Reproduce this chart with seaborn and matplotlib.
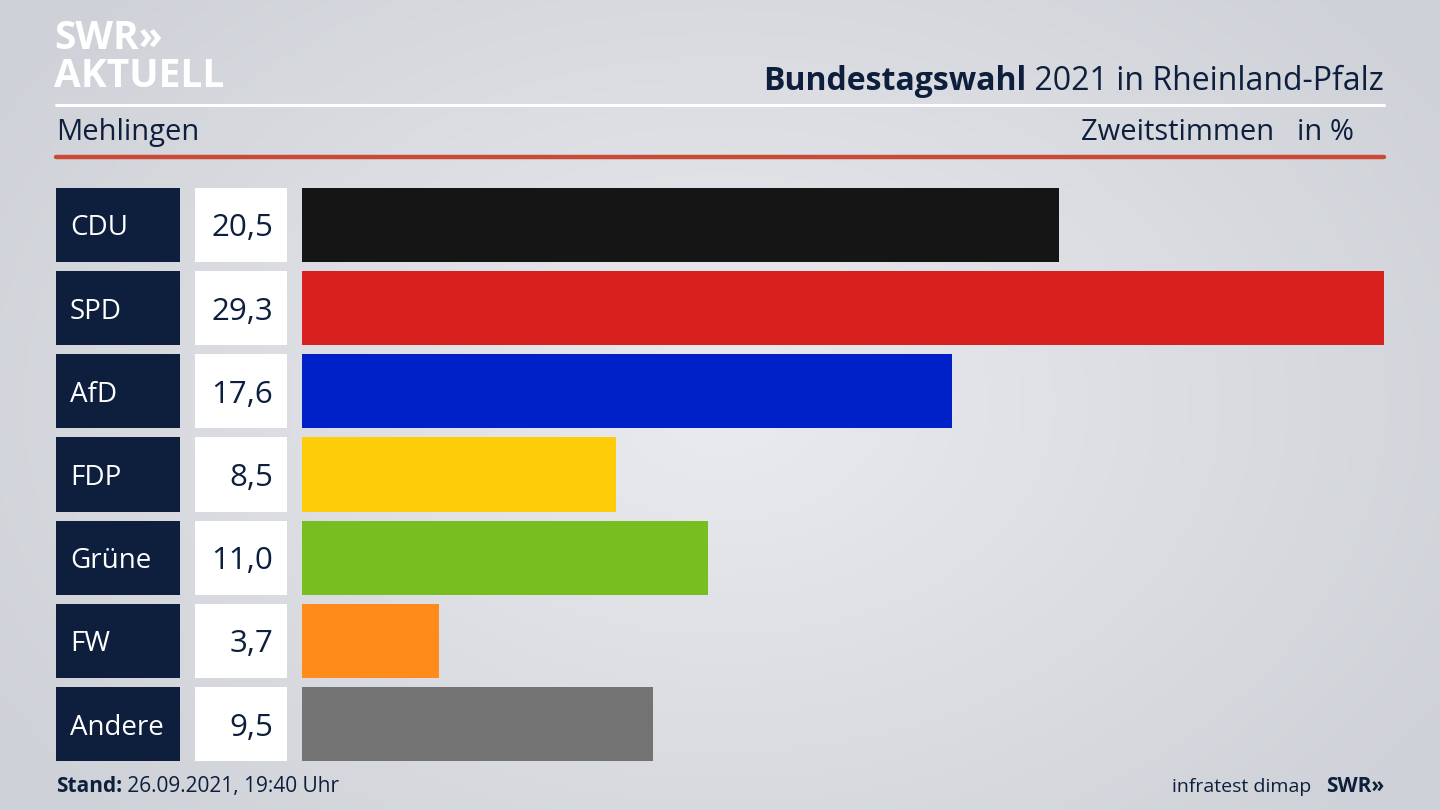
import numpy as np
import pandas as pd
import matplotlib
matplotlib.use("Agg")
import matplotlib.pyplot as plt
import seaborn as sns
from matplotlib.patches import Rectangle
from matplotlib.transforms import blended_transform_factory

parties = ["CDU", "SPD", "AfD", "FDP", "Grüne", "FW", "Andere"]
values = [20.5, 29.3, 17.6, 8.5, 11.0, 3.7, 9.5]
colors = ["#151515", "#d8201e", "#0021c8", "#ffcc0a", "#78be20", "#ff8c1a", "#737373"]
title_bold = "Bundestagswahl"
title_rest = " 2021 in Rheinland-Pfalz"
place = "Mehlingen"
measure = "Zweitstimmen   in %"
stand_bold = "Stand:"
stand_rest = " 26.09.2021, 19:40 Uhr"
source = "infratest dimap"

sns.set_theme(style="white")
FONT = ["Open Sans", "DejaVu Sans"]
plt.rcParams["font.family"] = FONT
NAVY = "#0d1f3c"

W, H = 1440, 810
fig = plt.figure(figsize=(W / 100, H / 100), dpi=100)

# background gradient
bg = fig.add_axes([0, 0, 1, 1], zorder=-10)
yy, xx = np.mgrid[0:H:4, 0:W:4]
r = np.sqrt(((xx - W * 0.5) / (W * 0.6)) ** 2 + ((yy - H * 0.5) / (H * 0.75)) ** 2)
r = np.clip(r, 0, 1)
c0 = np.array([234, 235, 239]) / 255
c1 = np.array([206, 209, 215]) / 255
img = c0[None, None, :] * (1 - r[..., None]) + c1[None, None, :] * r[..., None]
bg.imshow(img, extent=[0, W, H, 0], aspect="auto")
bg.set_xlim(0, W)
bg.set_ylim(H, 0)
bg.axis("off")

def px(x0, y0, x1, y1):
    return [x0 / W, 1 - y1 / H, (x1 - x0) / W, (y1 - y0) / H]

# main axes: bars from x=302 to 1384 (max value)
top = 225 - 83.2 / 2
bot = 724 + 83.2 / 2
ax = fig.add_axes(px(302, top, 1384, bot))
ax.patch.set_alpha(0)
df = pd.DataFrame({"party": parties, "value": values})
sns.barplot(data=df, y="party", x="value", hue="party", palette=colors,
            order=parties, hue_order=parties, orient="h", width=0.89,
            legend=False, ax=ax, saturation=1, linewidth=0)
ax.set_xlim(0, max(values))
ax.set_ylim(len(parties) - 0.5, -0.5)
ax.axis("off")

tr = blended_transform_factory(ax.transAxes, ax.transData)
axw = 1384 - 302
for i, (p, v) in enumerate(zip(parties, values)):
    ax.add_patch(Rectangle(((56 - 302) / axw, i - 0.445), 124 / axw, 0.89,
                           transform=tr, color=NAVY, clip_on=False, lw=0))
    ax.add_patch(Rectangle(((195 - 302) / axw, i - 0.445), 92 / axw, 0.89,
                           transform=tr, color="white", clip_on=False, lw=0))
    ax.text((70 - 302) / axw, i, p, transform=tr, color="white", fontsize=20,
            ha="left", va="center_baseline")
    ax.text((273 - 302) / axw, i, f"{v:.1f}".replace(".", ","), transform=tr,
            color=NAVY, fontsize=22.5, ha="right", va="center_baseline")

# header logo
fig.text(54 / W, 1 - 49 / H, "SWR»", color="white", fontsize=28, fontweight="bold",
         ha="left", va="baseline")
fig.text(54 / W, 1 - 87 / H, "AKTUELL", color="white", fontsize=28, fontweight="bold",
         ha="left", va="baseline")

fig.canvas.draw()
renderer = fig.canvas.get_renderer()
t_rest = fig.text(1384 / W, 1 - 90 / H, title_rest, color=NAVY, fontsize=23,
                  ha="right", va="baseline")
bb = t_rest.get_window_extent(renderer)
fig.text(bb.x0 / W, 1 - 90 / H, title_bold, color=NAVY, fontsize=23,
         fontweight="bold", ha="right", va="baseline")

fig.add_artist(plt.Line2D([56 / W, 1384 / W], [1 - 105 / H, 1 - 105 / H],
                          color="white", lw=2.2, transform=fig.transFigure))
fig.text(56 / W, 1 - 140 / H, place, color=NAVY, fontsize=21, ha="left", va="baseline")
fig.text(1354 / W, 1 - 140 / H, measure, color=NAVY, fontsize=21, ha="right", va="baseline")
fig.add_artist(plt.Line2D([56 / W, 1384 / W], [1 - 157 / H, 1 - 157 / H],
                          color="#cc4a35", lw=3.2, transform=fig.transFigure))

# footer
t_st = fig.text(56 / W, 1 - 792 / H, stand_bold, color=NAVY, fontsize=15,
                fontweight="bold", ha="left", va="baseline")
fig.canvas.draw()
bb2 = t_st.get_window_extent(renderer)
fig.text(bb2.x1 / W, 1 - 792 / H, stand_rest, color=NAVY, fontsize=15,
         ha="left", va="baseline")
t_swr = fig.text(1384 / W, 1 - 792 / H, "SWR»", color=NAVY, fontsize=15,
                 fontweight="bold", ha="right", va="baseline")
bb3 = t_swr.get_window_extent(renderer)
fig.text((bb3.x0 - 14) / W, 1 - 792 / H, source, color=NAVY, fontsize=14,
         ha="right", va="baseline")

fig.savefig("out.png", dpi=100)
